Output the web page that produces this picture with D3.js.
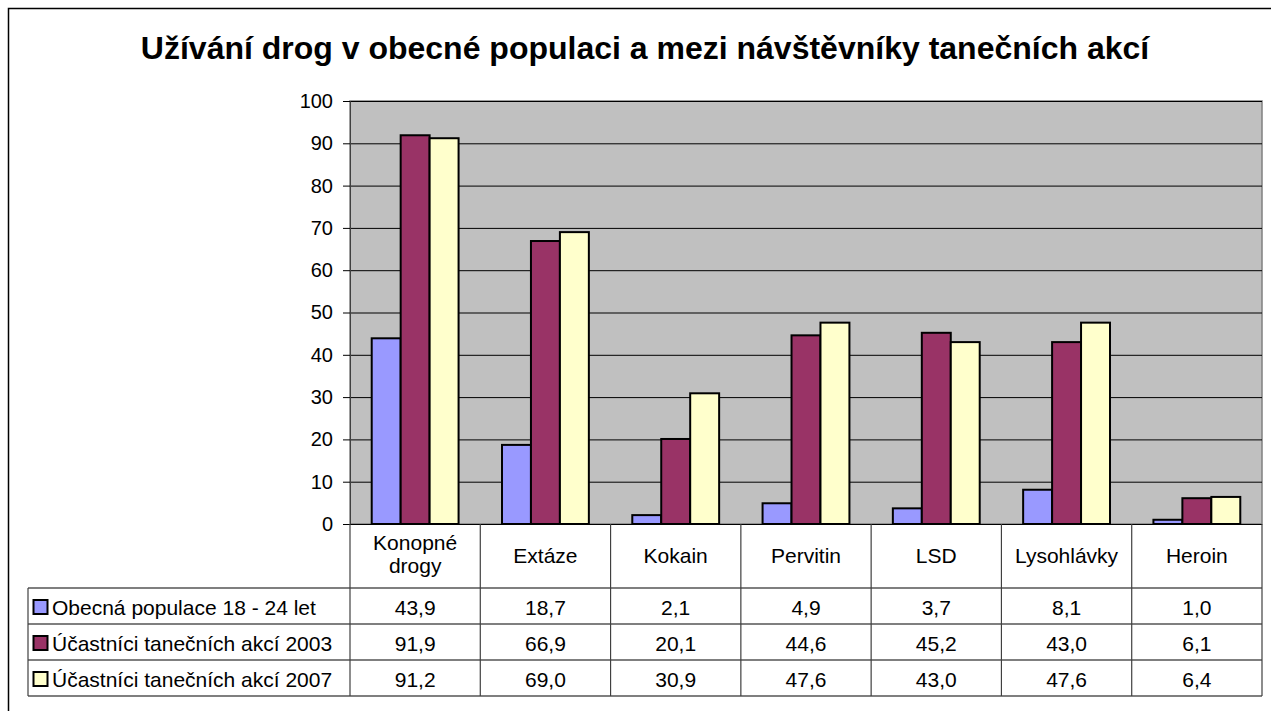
<!DOCTYPE html>
<html>
<head>
<meta charset="utf-8">
<script src="https://cdn.jsdelivr.net/npm/d3@7"></script>
<style>
  body { margin: 0; background: #fff; }
  svg text { font-family: Arial, "Liberation Sans", sans-serif; fill: #000; }
</style>
</head>
<body>
<div class="chart"></div>
<script>
// data
const categories = [["Konopné", "drogy"], ["Extáze"], ["Kokain"], ["Pervitin"], ["LSD"], ["Lysohlávky"], ["Heroin"]];
const seriesNames = ["Obecná populace 18 - 24 let", "Účastníci tanečních akcí 2003", "Účastníci tanečních akcí 2007"];
const general = [43.9, 18.7, 2.1, 4.9, 3.7, 8.1, 1.0];
const dance2003 = [91.9, 66.9, 20.1, 44.6, 45.2, 43.0, 6.1];
const dance2007 = [91.2, 69.0, 30.9, 47.6, 43.0, 47.6, 6.4];
const yTicks = [0, 10, 20, 30, 40, 50, 60, 70, 80, 90, 100];
const colors = ["#9999FF", "#993366", "#FFFFCC"];

const seriesValues = [general, dance2003, dance2007];

const w = 1272;
const h = 711;
const plot = { left: 350, right: 1262, top: 101, bottom: 524 };
const table = { left: 28, labelBottom: 588, rowH: 36 };
const fontSize = "21px";

const svg = d3.select(".chart").append("svg")
  .attr("width", w)
  .attr("height", h);

// outer frame (only top and left visible)
svg.append("path")
  .attr("d", "M8.5,711 L8.5,8.5 L1271,8.5")
  .attr("fill", "none")
  .attr("stroke", "#000")
  .attr("stroke-width", 1.5);

svg.append("text")
  .attr("x", 645)
  .attr("y", 59)
  .style("text-anchor", "middle")
  .style("font-size", "32px")
  .style("font-weight", "bold")
  .text("Užívání drog v obecné populaci a mezi návštěvníky tanečních akcí");

const idx = d3.range(categories.length);
const x = d3.scaleBand()
  .domain(idx)
  .range([plot.left, plot.right]);
const xs = d3.scaleBand()
  .domain(d3.range(seriesNames.length))
  .range([0, x.bandwidth()])
  .paddingOuter(0.75);
const y = d3.scaleLinear()
  .domain([0, 100])
  .range([plot.bottom, plot.top]);

// plot area
svg.append("rect")
  .attr("x", plot.left)
  .attr("y", plot.top)
  .attr("width", plot.right - plot.left)
  .attr("height", plot.bottom - plot.top)
  .attr("fill", "#C0C0C0")
  .attr("stroke", "#808080")
  .attr("stroke-width", 1.5);

// gridlines
const yGrid = d3.axisLeft(y)
  .tickValues(yTicks.slice(1))
  .tickSize(-(plot.right - plot.left))
  .tickFormat("");
svg.append("g")
  .attr("transform", "translate(" + plot.left + ",0)")
  .call(yGrid)
  .call(g => g.select(".domain").remove())
  .selectAll("line")
  .attr("stroke", "#000")
  .attr("stroke-width", 1);

// bars
seriesValues.forEach((vals, s) => {
  svg.append("g").selectAll("rect")
    .data(vals)
    .enter()
    .append("rect")
    .attr("x", (d, i) => x(i) + xs(s))
    .attr("y", d => y(d))
    .attr("width", xs.bandwidth())
    .attr("height", d => y(0) - y(d))
    .attr("fill", colors[s])
    .attr("stroke", "#000")
    .attr("stroke-width", 2);
});

// y axis
const yAxis = d3.axisLeft(y)
  .tickValues(yTicks)
  .tickSize(7)
  .tickPadding(10)
  .tickFormat(d => d);
svg.append("g")
  .attr("transform", "translate(" + plot.left + ",0)")
  .call(yAxis)
  .call(g => g.select(".domain").attr("stroke", "#404040"))
  .call(g => g.selectAll("line").attr("stroke", "#000"))
  .selectAll("text")
  .style("font-size", "20px")
  .attr("font-family", null);

// data table
const tableBottom = table.labelBottom + table.rowH * seriesNames.length;
const lines = svg.append("g").attr("stroke", "#000").attr("stroke-width", 1.2);

// horizontal lines
lines.append("line")
  .attr("x1", plot.left).attr("x2", plot.right)
  .attr("y1", plot.bottom + 0.5).attr("y2", plot.bottom + 0.5);
d3.range(seriesNames.length + 1).forEach(r => {
  const yy = table.labelBottom + r * table.rowH;
  lines.append("line")
    .attr("x1", table.left).attr("x2", plot.right)
    .attr("y1", yy).attr("y2", yy);
});
// vertical lines
x.domain().concat([categories.length]).forEach(i => {
  const xx = i < categories.length ? x(i) : plot.right;
  lines.append("line")
    .attr("x1", xx).attr("x2", xx)
    .attr("y1", plot.bottom).attr("y2", tableBottom)
    .attr("stroke", "#404040");
});
lines.append("line")
  .attr("x1", table.left).attr("x2", table.left)
  .attr("y1", table.labelBottom).attr("y2", tableBottom)
  .attr("stroke", "#404040");

// category labels
svg.append("g").selectAll("text")
  .data(categories)
  .enter()
  .append("text")
  .attr("x", (d, i) => x(i) + x.bandwidth() / 2)
  .attr("y", d => d.length > 1 ? 550 : 563)
  .style("text-anchor", "middle")
  .style("font-size", fontSize)
  .each(function(d) {
    d3.select(this).selectAll("tspan")
      .data(d)
      .enter()
      .append("tspan")
      .attr("x", d3.select(this).attr("x"))
      .attr("dy", (t, j) => j === 0 ? 0 : 23)
      .text(t => t);
  });

// legend rows
seriesNames.forEach((name, s) => {
  const cy = table.labelBottom + s * table.rowH + table.rowH / 2;
  svg.append("rect")
    .attr("x", 33.5)
    .attr("y", cy - 6)
    .attr("width", 14)
    .attr("height", 14)
    .attr("fill", colors[s])
    .attr("stroke", "#000")
    .attr("stroke-width", 2);
  svg.append("text")
    .attr("x", 52)
    .attr("y", cy + 9)
    .style("font-size", fontSize)
    .text(name);
  svg.append("g").selectAll("text")
    .data(seriesValues[s])
    .enter()
    .append("text")
    .attr("x", (d, i) => x(i) + x.bandwidth() / 2)
    .attr("y", cy + 9)
    .style("text-anchor", "middle")
    .style("font-size", fontSize)
    .text(d => d3.format(".1f")(d).replace(".", ","));
});
</script>
</body>
</html>
